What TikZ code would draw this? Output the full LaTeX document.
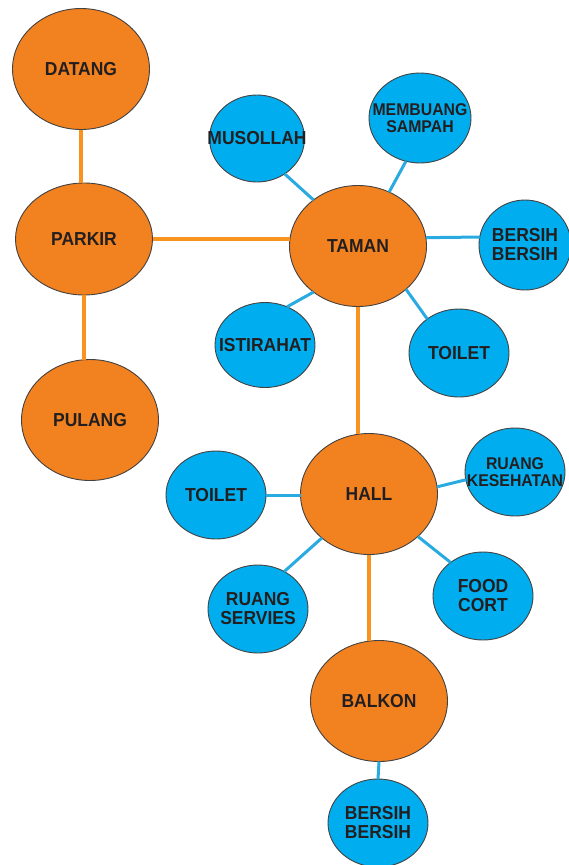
\documentclass[tikz,border=0pt]{standalone}
\usepackage{fontspec}
\setmainfont{Liberation Sans}
\newfontfamily\labelfont[FakeStretch=0.93]{Liberation Sans}
\usetikzlibrary{shapes.geometric}
\definecolor{orangefill}{HTML}{F2811F}
\definecolor{orangeline}{HTML}{F7931E}
\definecolor{bluefill}{HTML}{00AEEF}
\definecolor{blueline}{HTML}{29ABE2}
\definecolor{ink}{HTML}{231F20}
\tikzset{
  bubble/.style={shape=ellipse, draw=ink!85, line width=0.9pt, inner sep=0pt, outer sep=0pt},
  mainbubble/.style={bubble, fill=orangefill, minimum width=137pt, minimum height=121pt},
  subbubble/.style={bubble, fill=bluefill, minimum width=100pt, minimum height=88pt},
  txt/.style={font=\labelfont\bfseries\fontsize{18.8}{19}\selectfont, text=ink, align=center, inner sep=0pt},
  smalltxt/.style={font=\labelfont\bfseries\fontsize{17}{17.5}\selectfont, text=ink, align=center, inner sep=0pt},
  mainlink/.style={draw=orangeline, line width=3.2pt},
  sublink/.style={draw=blueline, line width=3pt}
}
\begin{document}
\begin{tikzpicture}[x=1pt, y=-1pt]
\useasboundingbox (0,0) rectangle (568,865);

% main chain
\node[mainbubble, label={[txt]center:DATANG}] (datang) at (81,69) {};
\node[mainbubble, minimum height=112pt, label={[txt]center:PARKIR}] (parkir) at (84,239) {};
\node[mainbubble, label={[txt]center:PULANG}] (pulang) at (90,420) {};
\node[mainbubble, label={[txt]center:TAMAN}] (taman) at (358,246) {};
\node[mainbubble, label={[txt]center:HALL}] (hall) at (369,494) {};
\node[mainbubble, label={[txt]center:BALKON}] (balkon) at (379,701) {};

% around the garden
\node[subbubble, minimum width=95pt, minimum height=87pt, label={[txt]center:MUSOLLAH}] (musollah) at (257,138.5) {};
\node[subbubble, minimum width=102pt, minimum height=90pt, label={[smalltxt]center:MEMBUANG\\SAMPAH}] (sampah) at (420,118) {};
\node[subbubble, minimum width=92pt, minimum height=90pt, label={[txt]center:BERSIH\\BERSIH}] (bersiha) at (525,245) {};
\node[subbubble, label={[txt]center:TOILET}] (toileta) at (459,353) {};
\node[subbubble, minimum height=85pt, label={[txt]center:ISTIRAHAT}] (istirahat) at (265,345) {};

% around the hall
\node[subbubble, label={[txt]center:TOILET}] (toiletb) at (216,495) {};
\node[subbubble, label={[smalltxt]center:RUANG\\KESEHATAN}] (kesehatan) at (515,472) {};
\node[subbubble, label={[txt]center:RUANG\\SERVIES}] (servies) at (258,609) {};
\node[subbubble, label={[txt]center:FOOD\\CORT}] (food) at (483,596) {};

% below the balcony
\node[subbubble, label={[txt]center:BERSIH\\BERSIH}] (bersihb) at (378,823) {};

% orange links
\draw[mainlink] (datang.south) -- (datang.south |- parkir.north);
\draw[mainlink] (parkir.south) -- (parkir.south |- pulang.north);
\draw[mainlink] (parkir.east) -- (parkir.east -| taman.west);
\draw[mainlink] (taman.south) -- (taman.south |- hall.north);
\draw[mainlink] (hall.south) -- (hall.south |- balkon.north);

% blue links
\draw[sublink] (musollah.-52) -- (taman.134);
\draw[sublink] (sampah.252) -- (taman.60);
\draw[sublink] (taman.7.5) -- (bersiha.170);
\draw[sublink] (taman.-42) -- (toileta.133);
\draw[sublink] (taman.-134) -- (istirahat.60);
\draw[sublink] (toiletb.east) -- (toiletb.east -| hall.west);
\draw[sublink] (hall.6.7) -- (kesehatan.189);
\draw[sublink] (hall.223) -- (servies.55);
\draw[sublink] (hall.-41) -- (food.134);
\draw[sublink] (balkon.south) -- (bersihb.north);
\end{tikzpicture}
\end{document}
